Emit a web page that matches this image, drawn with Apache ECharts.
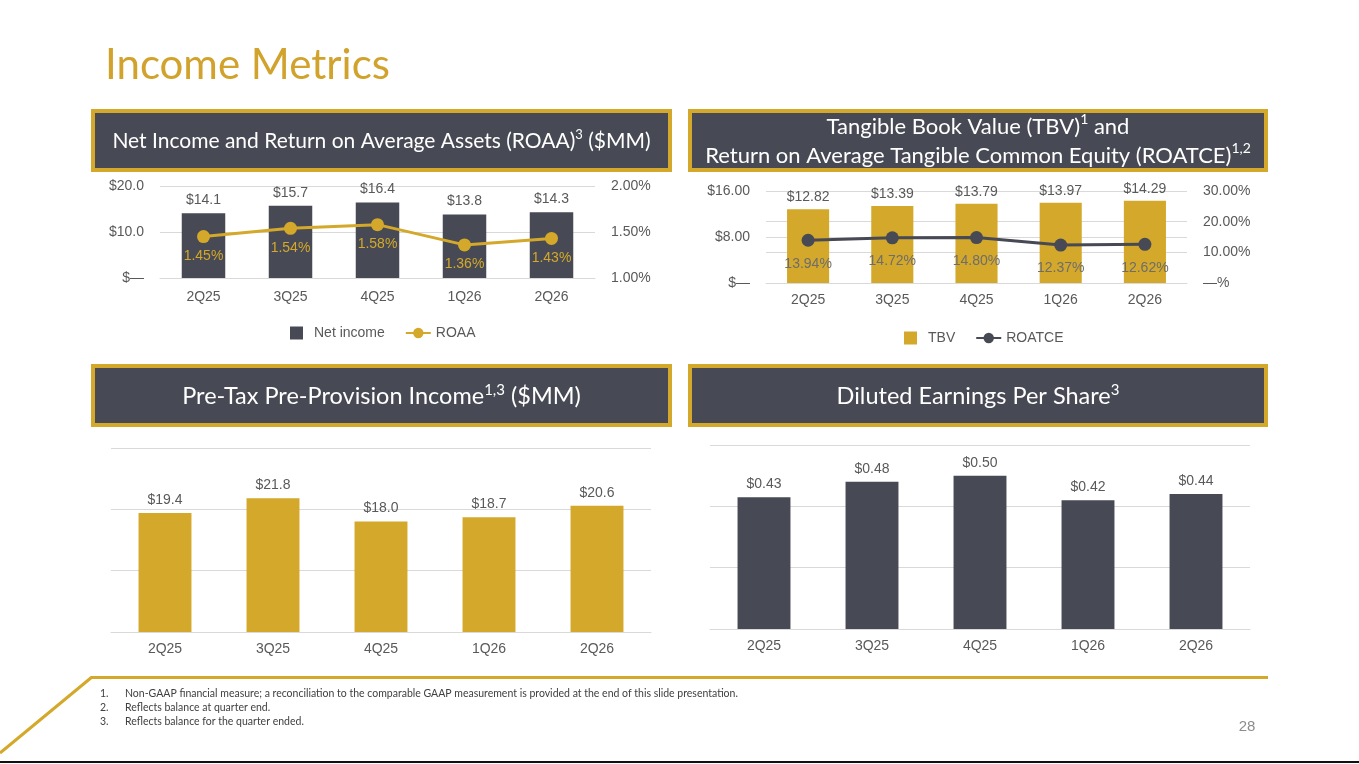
<!DOCTYPE html>
<html>
<head>
<meta charset="utf-8">
<title>Income Metrics</title>
<script src="https://cdn.jsdelivr.net/npm/echarts@6/dist/echarts.min.js"></script>
<style>
  html, body { margin: 0; padding: 0; background: #fff; }
  #main { width: 1359px; height: 764px; }
</style>
</head>
<body>
<div id="main"></div>
<script>
// data
var quarters = ['2Q25', '3Q25', '4Q25', '1Q26', '2Q26'];
var netIncome = [14.1, 15.7, 16.4, 13.8, 14.3];     // $MM
var roaa = [1.45, 1.54, 1.58, 1.36, 1.43];          // %
var tbv = [12.82, 13.39, 13.79, 13.97, 14.29];      // $
var roatce = [13.94, 14.72, 14.80, 12.37, 12.62];   // %
var pptp = [19.4, 21.8, 18.0, 18.7, 20.6];          // $MM
var eps = [0.43, 0.48, 0.50, 0.42, 0.44];           // $
var footnotes = [
  'Non-GAAP financial measure; a reconciliation to the comparable GAAP measurement is provided at the end of this slide presentation.',
  'Reflects balance at quarter end.',
  'Reflects balance for the quarter ended.'
];

var GOLD = '#D4A82A';
var DARK = '#474A54';
var GREY = '#595959';
var GRID = '#D9D9D9';
var SANS = '"Liberation Sans", Arial, sans-serif';
var HEAD = 'Lato, "Open Sans", sans-serif';
var SQUARE = 'path://M0,0H10V10H0Z';

var myChart = echarts.init(document.getElementById('main'));

function catAxis(gi, margin) {
  return {
    type: 'category', gridIndex: gi, data: quarters,
    axisTick: {show: false},
    axisLine: {lineStyle: {color: GRID}},
    axisLabel: {color: GREY, fontSize: 14, fontFamily: SANS, margin: margin}
  };
}
function valAxis(gi, min, max, step, fmt, pos, split) {
  return {
    type: 'value', gridIndex: gi, min: min, max: max, interval: step, position: pos,
    axisLine: {show: false}, axisTick: {show: false},
    axisLabel: fmt ? {color: GREY, fontSize: 14, fontFamily: SANS, margin: 16, formatter: fmt} : {show: false},
    splitLine: {show: split, lineStyle: {color: GRID}}
  };
}
// header box: gold frame + dark fill + white title
function header(x, y, w, txt, size, lh) {
  return [
    {type: 'rect', shape: {x: x, y: y, width: w, height: 63}, style: {fill: GOLD}},
    {type: 'rect', shape: {x: x + 4, y: y + 4, width: w - 8, height: 55}, style: {fill: DARK}},
    {type: 'text', x: x + w / 2, y: y + 32,
     style: {text: txt, fill: '#fff', font: size + 'px ' + HEAD, align: 'center', verticalAlign: 'middle',
             lineHeight: lh || 26,
             rich: {s: {fontSize: Math.round(size * 0.62), fill: '#fff', fontFamily: HEAD, verticalAlign: 'top', lineHeight: lh || 26}}}}
  ];
}

var graphics = [
  {type: 'text', x: 105, y: 65, style: {text: 'Income Metrics', fill: '#D1A22C', font: '42px ' + HEAD, verticalAlign: 'middle'}},
  {type: 'line', shape: {x1: 91, y1: 677.5, x2: 1268, y2: 677.5}, style: {stroke: GOLD, lineWidth: 3}},
  {type: 'line', shape: {x1: 92, y1: 677, x2: 0, y2: 753}, style: {stroke: GOLD, lineWidth: 3}},
  {type: 'line', shape: {x1: 0, y1: 762, x2: 1359, y2: 762}, style: {stroke: '#111', lineWidth: 2}},
  {type: 'text', x: 1247, y: 727, style: {text: '28', fill: '#8C8C8C', font: '15px ' + SANS, align: 'center', verticalAlign: 'middle'}}
]
.concat(header(91, 109, 581, 'Net Income and Return on Average Assets (ROAA){s|3} ($MM)', 21))
.concat(header(688, 109, 580, 'Tangible Book Value (TBV){s|1} and\nReturn on Average Tangible Common Equity (ROATCE){s|1,2}', 22, 29))
.concat(header(91, 364, 581, 'Pre-Tax Pre-Provision Income{s|1,3} ($MM)', 23.5))
.concat(header(688, 364, 580, 'Diluted Earnings Per Share{s|3}', 23.5));

footnotes.forEach(function (t, i) {
  graphics.push({type: 'text', x: 100, y: 694 + i * 14, style: {text: (i + 1) + '.', fill: '#404040', font: '10.5px ' + HEAD, verticalAlign: 'middle'}});
  graphics.push({type: 'text', x: 125, y: 694 + i * 14, style: {text: t, fill: '#404040', font: '10.5px ' + HEAD, verticalAlign: 'middle'}});
});

var legendText = {color: GREY, fontSize: 14, fontFamily: SANS};

var option = {
  animation: false,
  backgroundColor: '#fff',
  graphic: graphics,
  grid: [
    {left: 160, top: 186, width: 435, height: 92},
    {left: 766, top: 191, width: 421, height: 92},
    {left: 111, top: 448, width: 540, height: 184},
    {left: 710, top: 445, width: 540, height: 184}
  ],
  legend: [
    {data: [{name: 'Net income', icon: SQUARE}, 'ROAA'], left: 285, top: 321,
     itemWidth: 25, itemHeight: 13, itemGap: 20, textStyle: legendText},
    {data: [{name: 'TBV', icon: SQUARE}, 'ROATCE'], left: 899, top: 326,
     itemWidth: 25, itemHeight: 13, itemGap: 20, textStyle: legendText}
  ],
  xAxis: [catAxis(0, 12), catAxis(1, 10), catAxis(2, 10), catAxis(3, 10)],
  yAxis: [
    valAxis(0, 0, 20, 10, function (v) { return v === 0 ? '$\u2014' : '$' + v.toFixed(1); }, 'left', true),
    valAxis(0, 1, 2, 0.5, function (v) { return v.toFixed(2) + '%'; }, 'right', false),
    valAxis(1, 0, 16, 8, function (v) { return v === 0 ? '$\u2014' : '$' + v.toFixed(2); }, 'left', true),
    valAxis(1, 0, 30, 10, function (v) { return v === 0 ? '\u2014%' : v.toFixed(2) + '%'; }, 'right', true),
    valAxis(2, 0, 30, 10, null, 'left', true),
    valAxis(3, 0, 0.6, 0.2, null, 'left', true)
  ],
  series: [
    {name: 'Net income', type: 'bar', xAxisIndex: 0, yAxisIndex: 0, data: netIncome, barWidth: '50%',
     itemStyle: {color: DARK},
     label: {show: true, position: 'top', distance: 6, color: GREY, fontSize: 14, fontFamily: SANS,
             formatter: function (p) { return '$' + p.value.toFixed(1); }}},
    {name: 'ROAA', type: 'line', xAxisIndex: 0, yAxisIndex: 1, data: roaa,
     symbol: 'circle', symbolSize: 13, lineStyle: {color: GOLD, width: 3}, itemStyle: {color: GOLD},
     label: {show: true, position: 'bottom', distance: 6, color: GOLD, fontSize: 14, fontFamily: SANS,
             formatter: function (p) { return p.value.toFixed(2) + '%'; }}},
    {name: 'TBV', type: 'bar', xAxisIndex: 1, yAxisIndex: 2, data: tbv, barWidth: '50%',
     itemStyle: {color: GOLD},
     label: {show: true, position: 'top', distance: 5, color: GREY, fontSize: 14, fontFamily: SANS,
             formatter: function (p) { return '$' + p.value.toFixed(2); }}},
    {name: 'ROATCE', type: 'line', xAxisIndex: 1, yAxisIndex: 3, data: roatce,
     symbol: 'circle', symbolSize: 13, lineStyle: {color: DARK, width: 3}, itemStyle: {color: DARK},
     label: {show: true, position: 'bottom', distance: 10, color: '#6D6D6D', fontSize: 14, fontFamily: SANS,
             formatter: function (p) { return p.value.toFixed(2) + '%'; }}},
    {name: 'PTPP', type: 'bar', xAxisIndex: 2, yAxisIndex: 4, data: pptp, barWidth: '49%',
     itemStyle: {color: GOLD},
     label: {show: true, position: 'top', distance: 6, color: GREY, fontSize: 14, fontFamily: SANS,
             formatter: function (p) { return '$' + p.value.toFixed(1); }}},
    {name: 'EPS', type: 'bar', xAxisIndex: 3, yAxisIndex: 5, data: eps, barWidth: '49%',
     itemStyle: {color: DARK},
     label: {show: true, position: 'top', distance: 6, color: GREY, fontSize: 14, fontFamily: SANS,
             formatter: function (p) { return '$' + p.value.toFixed(2); }}}
  ]
};
myChart.setOption(option);
</script>
</body>
</html>
